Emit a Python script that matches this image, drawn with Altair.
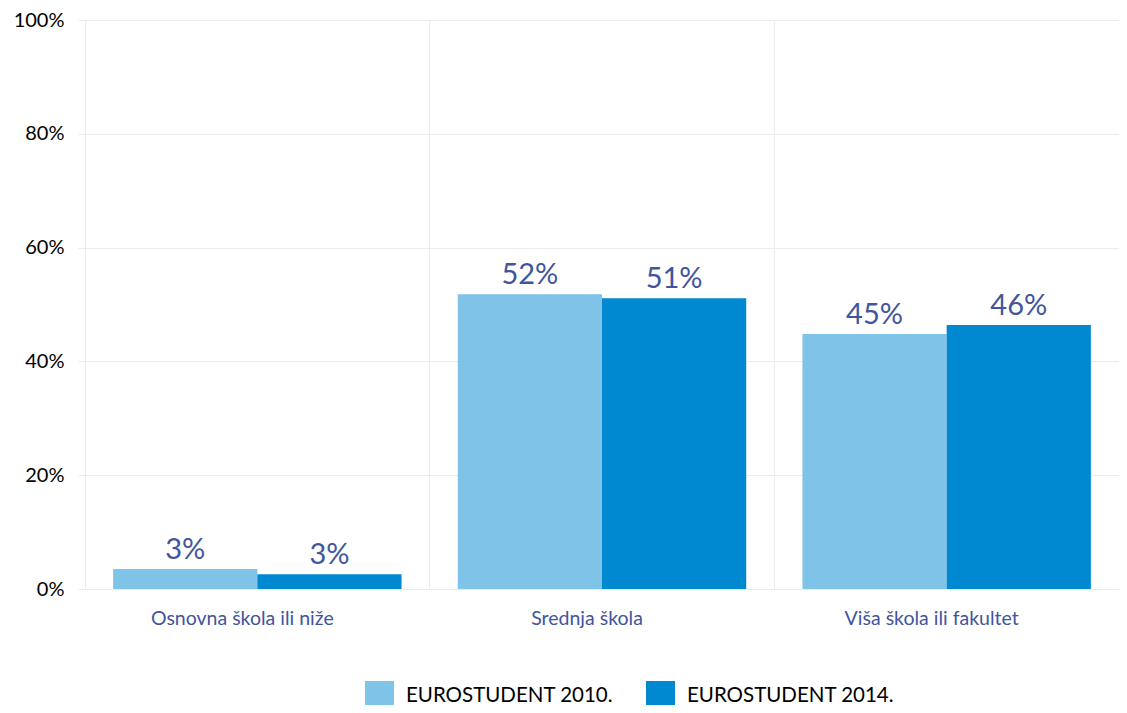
import altair as alt
import pandas as pd

categories = ["Osnovna škola ili niže", "Srednja škola", "Viša škola ili fakultet"]
series = ["EUROSTUDENT 2010.", "EUROSTUDENT 2014."]
values_2010 = [3.5, 51.8, 44.8]
values_2014 = [2.6, 51.1, 46.4]
labels_2010 = ["3%", "52%", "45%"]
labels_2014 = ["3%", "51%", "46%"]

rows = []
for c, v, l in zip(categories, values_2010, labels_2010):
    rows.append({"cat": c, "serie": series[0], "val": v, "lab": l})
for c, v, l in zip(categories, values_2014, labels_2014):
    rows.append({"cat": c, "serie": series[1], "val": v, "lab": l})
df = pd.DataFrame(rows)

FONT = "Lato"
LBL_BLUE = "#41559E"

x = alt.X("cat:N", sort=categories, title=None,
          scale=alt.Scale(paddingInner=0, paddingOuter=0),
          axis=alt.Axis(labelAngle=0, labelFont=FONT, labelFontSize=19.5,
                        labelColor=LBL_BLUE, labelPadding=20, labelOffset=-15,
                        labelLimit=0,
                        ticks=False, domain=False, grid=True, bandPosition=0,
                        gridColor="#EBEBEB", gridWidth=1))
xo = alt.XOffset("serie:N", sort=series,
                 scale=alt.Scale(paddingInner=0, paddingOuter=0.195))
y = alt.Y("val:Q", title=None,
          scale=alt.Scale(domain=[0, 100], nice=False),
          axis=alt.Axis(values=[0, 20, 40, 60, 80, 100],
                        labelExpr="datum.value + '%'",
                        labelFont=FONT, labelFontSize=20, labelColor="#000000",
                        labelPadding=14, tickSize=7, tickColor="#EBEBEB",
                        domain=False, gridColor="#EBEBEB", gridWidth=1))

color = alt.Color("serie:N", sort=series,
                  scale=alt.Scale(domain=series, range=["#7FC3E8", "#0088D1"]),
                  legend=alt.Legend(title=None, orient="none", direction="horizontal",
                                    legendX=280, legendY=661,
                                    symbolType="square", symbolSize=841,
                                    symbolStrokeWidth=0, symbolOpacity=1,
                                    labelFont=FONT, labelFontSize=20.5, labelLimit=0,
                                    labelColor="#000000", labelOffset=12,
                                    columnPadding=32))

bars = alt.Chart(df).mark_bar(opacity=1).encode(x=x, xOffset=xo, y=y, color=color)

texts = alt.Chart(df).mark_text(baseline="bottom", dy=-4, font=FONT, fontSize=29,
                                color=LBL_BLUE).encode(
    x=alt.X("cat:N", sort=categories),
    xOffset=alt.XOffset("serie:N", sort=series),
    y="val:Q",
    text="lab:N")

chart = (bars + texts).properties(
    width=1034, height=569,
    autosize=alt.AutoSizeParams(type="none"),
    padding={"left": 77, "top": 12, "right": 0, "bottom": 116},
).configure_view(stroke=None).configure(background="white")

chart.save("out.html", embed_options={"renderer": "svg", "actions": False})
